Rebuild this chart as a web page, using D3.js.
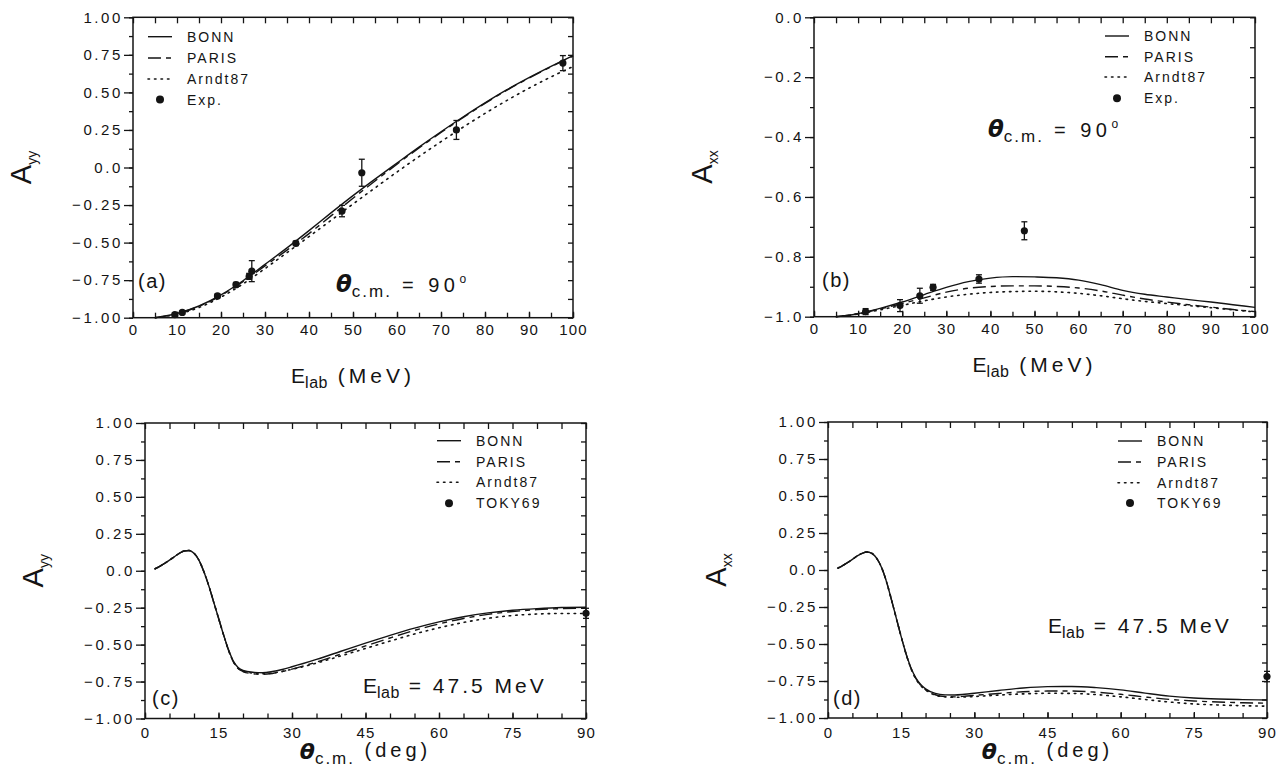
<!DOCTYPE html>
<html>
<head>
<meta charset="utf-8">
<script src="https://cdn.jsdelivr.net/npm/d3@7"></script>
<style>
  body { margin: 0; background: #fff; }
  text { font-family: "Liberation Sans", Arial, sans-serif; fill: #141414; }
</style>
</head>
<body>
<svg id="fig" width="1286" height="784"></svg>
<script>
// ---------- energy dependence at theta_cm = 90 deg ----------
const energyGrid = [5, 10, 15, 20, 25, 30, 35, 40, 45, 50, 55, 60, 65, 70, 75, 80, 85, 90, 95, 100];

const ayyEnergyBonn   = [-1.0, -0.972, -0.922, -0.848, -0.754, -0.645, -0.535, -0.42, -0.302, -0.187, -0.077, 0.03, 0.136, 0.238, 0.336, 0.43, 0.518, 0.598, 0.673, 0.745];
const ayyEnergyParis  = [-1.0, -0.973, -0.924, -0.852, -0.76, -0.655, -0.55, -0.44, -0.322, -0.205, -0.09, 0.022, 0.13, 0.233, 0.332, 0.427, 0.515, 0.595, 0.67, 0.742];
const ayyEnergyArndt  = [-1.0, -0.977, -0.932, -0.863, -0.775, -0.673, -0.567, -0.46, -0.352, -0.243, -0.136, -0.03, 0.073, 0.172, 0.268, 0.36, 0.447, 0.528, 0.603, 0.672];

const axxEnergyBonn   = [-1.0, -0.99, -0.972, -0.951, -0.926, -0.902, -0.883, -0.871, -0.866, -0.867, -0.87, -0.878, -0.893, -0.912, -0.925, -0.934, -0.943, -0.951, -0.96, -0.969];
const axxEnergyParis  = [-1.0, -0.99, -0.974, -0.956, -0.937, -0.918, -0.905, -0.899, -0.897, -0.897, -0.899, -0.904, -0.914, -0.928, -0.941, -0.951, -0.96, -0.968, -0.976, -0.983];
const axxEnergyArndt  = [-1.0, -0.991, -0.977, -0.962, -0.947, -0.934, -0.925, -0.919, -0.916, -0.915, -0.917, -0.922, -0.93, -0.94, -0.949, -0.956, -0.963, -0.97, -0.977, -0.984];

// measured A_yy(90 deg) versus E_lab
const ayyExpEnergy = [9.5, 11.2, 19.2, 23.4, 26.4, 27.0, 37.0, 47.5, 52.0, 73.5, 97.7];
const ayyExpValue  = [-0.98, -0.965, -0.855, -0.78, -0.725, -0.69, -0.505, -0.29, -0.035, 0.25, 0.695];
const ayyExpError  = [0.01, 0.01, 0.012, 0.015, 0.02, 0.07, 0.015, 0.038, 0.09, 0.063, 0.05];

// measured A_xx(90 deg) versus E_lab
const axxExpEnergy = [11.7, 19.5, 24.0, 27.0, 37.4, 47.7];
const axxExpValue  = [-0.983, -0.963, -0.93, -0.902, -0.874, -0.713];
const axxExpError  = [0.01, 0.02, 0.025, 0.01, 0.014, 0.03];

// ---------- angular dependence at E_lab = 47.5 MeV ----------
const angleGrid = [2, 3, 4, 5, 6, 7, 8, 9, 10, 11, 12, 13, 14, 15, 16, 17, 18, 19, 20, 22, 24, 26, 28, 30, 35, 40, 45, 50, 55, 60, 65, 70, 75, 80, 85, 90];

const ayyAngleBonn  = [0.012, 0.03, 0.05, 0.072, 0.095, 0.118, 0.134, 0.137, 0.118, 0.072, -0.005, -0.1, -0.21, -0.32, -0.43, -0.53, -0.61, -0.655, -0.675, -0.687, -0.69, -0.682, -0.668, -0.65, -0.6, -0.545, -0.49, -0.437, -0.388, -0.346, -0.311, -0.285, -0.267, -0.256, -0.249, -0.247];
const ayyAngleParis = [0.012, 0.03, 0.05, 0.072, 0.095, 0.118, 0.134, 0.137, 0.118, 0.072, -0.005, -0.1, -0.21, -0.32, -0.43, -0.535, -0.615, -0.662, -0.682, -0.697, -0.701, -0.695, -0.683, -0.666, -0.618, -0.564, -0.509, -0.455, -0.404, -0.36, -0.323, -0.295, -0.276, -0.263, -0.256, -0.253];
const ayyAngleArndt = [0.012, 0.03, 0.05, 0.072, 0.095, 0.118, 0.134, 0.137, 0.118, 0.072, -0.005, -0.1, -0.21, -0.32, -0.43, -0.533, -0.613, -0.66, -0.68, -0.693, -0.697, -0.692, -0.681, -0.667, -0.625, -0.576, -0.526, -0.476, -0.428, -0.386, -0.35, -0.322, -0.303, -0.293, -0.289, -0.289];

const axxAngleBonn  = [0.012, 0.03, 0.05, 0.072, 0.095, 0.113, 0.122, 0.112, 0.078, 0.015, -0.08, -0.2, -0.325, -0.45, -0.565, -0.66, -0.728, -0.773, -0.803, -0.834, -0.844, -0.845, -0.84, -0.833, -0.814, -0.797, -0.788, -0.787, -0.795, -0.81, -0.832, -0.852, -0.865, -0.872, -0.876, -0.878];
const axxAngleParis = [0.012, 0.03, 0.05, 0.072, 0.095, 0.113, 0.122, 0.112, 0.078, 0.015, -0.08, -0.2, -0.325, -0.45, -0.567, -0.664, -0.733, -0.779, -0.808, -0.843, -0.855, -0.857, -0.853, -0.847, -0.834, -0.823, -0.818, -0.818, -0.826, -0.84, -0.858, -0.874, -0.885, -0.892, -0.897, -0.9];
const axxAngleArndt = [0.012, 0.03, 0.05, 0.072, 0.095, 0.113, 0.122, 0.112, 0.078, 0.015, -0.08, -0.2, -0.325, -0.45, -0.567, -0.665, -0.735, -0.781, -0.81, -0.846, -0.857, -0.86, -0.858, -0.855, -0.845, -0.837, -0.833, -0.834, -0.842, -0.857, -0.875, -0.892, -0.905, -0.912, -0.917, -0.92];

// TOKY69 points at 90 deg
const ayyToky = { angle: [90], value: [-0.288], error: [0.034] };
const axxToky = { angle: [90], value: [-0.72], error: [0.035] };

// ---------- tick labels ----------
const energyTicks = [0, 10, 20, 30, 40, 50, 60, 70, 80, 90, 100];
const angleTicks  = [0, 15, 30, 45, 60, 75, 90];
const fullTicks   = [-1.0, -0.75, -0.5, -0.25, 0.0, 0.25, 0.5, 0.75, 1.0];
const fullTickLabels = ["\u22121.00", "\u22120.75", "\u22120.50", "\u22120.25", "0.0", "0.25", "0.50", "0.75", "1.00"];
const axxTicks    = [-1.0, -0.8, -0.6, -0.4, -0.2, 0.0];
const axxTickLabels = ["\u22121.0", "\u22120.8", "\u22120.6", "\u22120.4", "\u22120.2", "0.0"];

const modelNames = ["BONN", "PARIS", "Arndt87"];

// ---------- drawing ----------
const svg = d3.select("#fig");
const ink = "#141414";
const dashes = [null, "13,5,5,5", "1.5,5"];

function rich(g, x, y, parts, anchor) {
  const t = g.append("text").attr("x", x).attr("y", y).attr("text-anchor", anchor || "start");
  parts.forEach(p => {
    const s = t.append("tspan").text(p.t)
      .style("font-size", (p.size || 19) + "px")
      .style("letter-spacing", (p.ls == null ? 1.5 : p.ls) + "px");
    if (p.dy) s.attr("dy", p.dy);
    if (p.italic) s.style("font-style", "italic");
    if (p.bold) s.style("font-weight", "bold");
    if (p.family) s.style("font-family", p.family);
  });
  return t;
}

function range(a, b, step) {
  const out = [];
  for (let v = a; v <= b + 1e-9; v += step) out.push(+v.toFixed(4));
  return out;
}

function drawPanel(p) {
  const g = svg.append("g");
  const x = d3.scaleLinear().domain(p.xDomain).range([p.left, p.right]);
  const y = d3.scaleLinear().domain(p.yDomain).range([p.bottom, p.top]);

  const xMinor = range(p.xDomain[0], p.xDomain[1], p.xMinorStep);
  const yMinor = range(p.yDomain[0], p.yDomain[1], p.yMinorStep);

  const styleAxis = spacing => sel => {
    sel.select(".domain").remove();
    sel.selectAll("line").attr("stroke", ink).attr("stroke-width", 1.3);
    sel.selectAll("text").style("font-size", "15px").style("letter-spacing", spacing + "px")
       .attr("fill", ink).style("font-family", '"Liberation Sans", Arial, sans-serif');
  };

  // left: labelled ticks point outward, minor ticks short
  g.append("g").attr("transform", `translate(${p.left},0)`)
    .call(d3.axisLeft(y).tickValues(yMinor).tickSize(4).tickFormat(""))
    .call(styleAxis(0));
  g.append("g").attr("transform", `translate(${p.left},0)`)
    .call(d3.axisLeft(y).tickValues(p.yTicks).tickSize(9).tickPadding(1)
      .tickFormat((d, i) => p.yTickLabels[i]))
    .call(styleAxis(2.6));
  // right: inward
  g.append("g").attr("transform", `translate(${p.right},0)`)
    .call(d3.axisRight(y).tickValues(yMinor).tickSize(-5).tickFormat(""))
    .call(styleAxis(0));
  // top: inward
  g.append("g").attr("transform", `translate(0,${p.top})`)
    .call(d3.axisTop(x).tickValues(xMinor).tickSize(-6).tickFormat(""))
    .call(styleAxis(0));
  // bottom: inward minor ticks, labels below
  g.append("g").attr("transform", `translate(0,${p.bottom})`)
    .call(d3.axisBottom(x).tickValues(xMinor).tickSize(-5).tickFormat(""))
    .call(styleAxis(0));
  g.append("g").attr("transform", `translate(0,${p.bottom})`)
    .call(d3.axisBottom(x).tickValues(p.xTicks).tickSize(-6).tickPadding(p.xPad)
      .tickFormat(d => String(d)))
    .call(styleAxis(1.2));

  // frame
  g.append("rect").attr("x", p.left).attr("y", p.top)
    .attr("width", p.right - p.left).attr("height", p.bottom - p.top)
    .attr("fill", "none").attr("stroke", ink).attr("stroke-width", 1.5);

  // model curves
  const line = d3.line().x(d => x(d[0])).y(d => y(d[1])).curve(d3.curveMonotoneX);
  p.curves.forEach((vals, k) => {
    g.append("path").datum(p.grid.map((v, i) => [v, vals[i]]))
      .attr("d", line).attr("fill", "none").attr("stroke", ink)
      .attr("stroke-width", k === 2 ? 1.6 : 1.4)
      .attr("stroke-linecap", k === 2 ? "round" : "butt")
      .attr("stroke-dasharray", dashes[k]);
  });

  // measured points with error bars
  const pts = p.exp.x.map((v, i) => ({ x: v, y: p.exp.y[i], e: p.exp.e[i] }));
  const eg = g.append("g").attr("stroke", ink).attr("stroke-width", 1.3);
  pts.forEach(d => {
    eg.append("line").attr("x1", x(d.x)).attr("x2", x(d.x))
      .attr("y1", y(d.y - d.e)).attr("y2", y(d.y + d.e));
    [d.y - d.e, d.y + d.e].forEach(v => eg.append("line")
      .attr("x1", x(d.x) - 3).attr("x2", x(d.x) + 3).attr("y1", y(v)).attr("y2", y(v)));
  });
  g.append("g").selectAll("circle").data(pts).join("circle")
    .attr("cx", d => x(d.x)).attr("cy", d => y(d.y)).attr("r", 3.6).attr("fill", ink);

  // legend
  const lg = g.append("g");
  p.legendRows.forEach((ry, i) => {
    if (i < 3) {
      lg.append("line").attr("x1", p.legendX).attr("x2", p.legendX + 24)
        .attr("y1", ry).attr("y2", ry).attr("stroke", ink)
        .attr("stroke-width", i === 2 ? 1.6 : 1.4)
        .attr("stroke-linecap", i === 2 ? "round" : "butt")
        .attr("stroke-dasharray", dashes[i]);
    } else {
      lg.append("circle").attr("cx", p.legendX + 12).attr("cy", ry).attr("r", 4).attr("fill", ink);
    }
    lg.append("text").attr("x", p.legendX + 39).attr("y", ry + 5)
      .style("font-size", "14px").style("letter-spacing", "2px")
      .text(i < 3 ? modelNames[i] : p.expName);
  });

  // panel letter
  rich(g, p.tagX, p.tagY, [{ t: p.tag, size: 20, ls: 1.5 }]);

  // axis titles
  const yt = g.append("g")
    .attr("transform", `translate(${p.left - 102},${(p.top + p.bottom) / 2}) rotate(-90)`);
  rich(yt, 0, 0, [
    { t: "A", size: 29, ls: 0 },
    { t: p.ySub, size: 14, dy: 6, ls: 0 }
  ], "middle");

  rich(g, (p.left + p.right) / 2, p.xTitleY, p.xTitle, "middle");

  // condition note
  rich(g, p.noteX, p.noteY, p.note);
  return g;
}

const thetaTitle = [
  { t: "\u03b8", size: 22, italic: true, bold: true, family: '"DejaVu Sans", sans-serif', ls: 0 },
  { t: "c.m.", size: 17, dy: 5, ls: 2 },
  { t: " (deg)", size: 20, dy: -7, ls: 4 }
];
const energyTitle = [
  { t: "E", size: 21, ls: 0 },
  { t: "lab", size: 16, dy: 5, ls: 0.5 },
  { t: " (MeV)", size: 21, dy: -5, ls: 4 }
];
const thetaNote = [
  { t: "\u03b8", size: 23, italic: true, bold: true, family: '"DejaVu Sans", sans-serif', ls: 0 },
  { t: "c.m.", size: 17, dy: 5, ls: 2 },
  { t: " = 90", size: 20, dy: -5, ls: 4.5 },
  { t: "o", size: 12, dy: -9, ls: 0 }
];
const energyNote = [
  { t: "E", size: 21, ls: 0 },
  { t: "lab", size: 16, dy: 5, ls: 0.5 },
  { t: " = 47.5 MeV", size: 21, dy: -5, ls: 3 }
];

drawPanel({
  left: 133, right: 573, top: 17.3, bottom: 317.7,
  xDomain: [0, 100], yDomain: [-1, 1], xMinorStep: 5, yMinorStep: 0.125,
  xTicks: energyTicks, yTicks: fullTicks, yTickLabels: fullTickLabels, xPad: 7,
  grid: energyGrid, curves: [ayyEnergyBonn, ayyEnergyParis, ayyEnergyArndt],
  exp: { x: ayyExpEnergy, y: ayyExpValue, e: ayyExpError },
  legendX: 148, legendRows: [36.7, 58.0, 79.0, 99.5], expName: "Exp.",
  tag: "(a)", tagX: 138, tagY: 288,
  ySub: "yy", xTitle: energyTitle, xTitleY: 383,
  note: thetaNote, noteX: 336, noteY: 292
});

drawPanel({
  left: 814, right: 1255, top: 17.3, bottom: 316.7,
  xDomain: [0, 100], yDomain: [-1, 0], xMinorStep: 5, yMinorStep: 0.1,
  xTicks: energyTicks, yTicks: axxTicks, yTickLabels: axxTickLabels, xPad: 7,
  grid: energyGrid, curves: [axxEnergyBonn, axxEnergyParis, axxEnergyArndt],
  exp: { x: axxExpEnergy, y: axxExpValue, e: axxExpError },
  legendX: 1105, legendRows: [36.0, 56.7, 77.0, 98.3], expName: "Exp.",
  tag: "(b)", tagX: 822, tagY: 287,
  ySub: "xx", xTitle: energyTitle, xTitleY: 372,
  note: thetaNote, noteX: 988, noteY: 137
});

drawPanel({
  left: 145, right: 586, top: 423, bottom: 718.5,
  xDomain: [0, 90], yDomain: [-1, 1], xMinorStep: 5, yMinorStep: 0.125,
  xTicks: angleTicks, yTicks: fullTicks, yTickLabels: fullTickLabels, xPad: 9,
  grid: angleGrid, curves: [ayyAngleBonn, ayyAngleParis, ayyAngleArndt],
  exp: { x: ayyToky.angle, y: ayyToky.value, e: ayyToky.error },
  legendX: 437, legendRows: [440.7, 461.7, 482.3, 503.3], expName: "TOKY69",
  tag: "(c)", tagX: 152, tagY: 705,
  ySub: "yy", xTitle: thetaTitle, xTitleY: 759,
  note: energyNote, noteX: 363, noteY: 693
});

drawPanel({
  left: 828, right: 1267, top: 422, bottom: 718,
  xDomain: [0, 90], yDomain: [-1, 1], xMinorStep: 5, yMinorStep: 0.125,
  xTicks: angleTicks, yTicks: fullTicks, yTickLabels: fullTickLabels, xPad: 9,
  grid: angleGrid, curves: [axxAngleBonn, axxAngleParis, axxAngleArndt],
  exp: { x: axxToky.angle, y: axxToky.value, e: axxToky.error },
  legendX: 1118, legendRows: [441, 462, 482.7, 503], expName: "TOKY69",
  tag: "(d)", tagX: 833, tagY: 705,
  ySub: "xx", xTitle: thetaTitle, xTitleY: 759,
  note: energyNote, noteX: 1048, noteY: 633
});
</script>
</body>
</html>
